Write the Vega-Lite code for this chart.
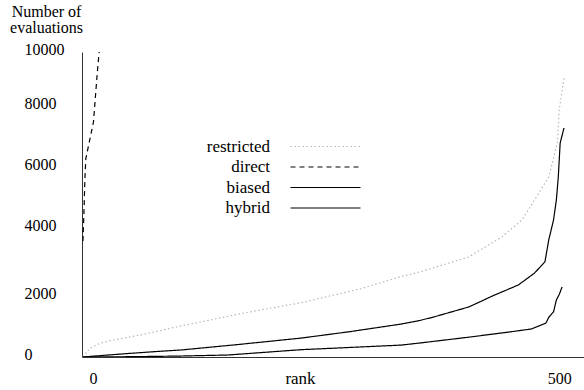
{
  "$schema": "https://vega.github.io/schema/vega-lite/v6.json",
  "width": 502,
  "height": 305,
  "autosize": "none",
  "padding": {"left": 82, "top": 52, "right": 0, "bottom": 33},
  "background": "white",
  "config": {"view": {"stroke": null}, "font": "Liberation Serif"},
  "data": {
    "values": [
      {"method": "restricted", "rank": 0, "evals": 0},
      {"method": "restricted", "rank": 4, "evals": 160},
      {"method": "restricted", "rank": 7, "evals": 280},
      {"method": "restricted", "rank": 18, "evals": 450},
      {"method": "restricted", "rank": 29, "evals": 540},
      {"method": "restricted", "rank": 60, "evals": 720},
      {"method": "restricted", "rank": 103, "evals": 1020},
      {"method": "restricted", "rank": 124, "evals": 1150},
      {"method": "restricted", "rank": 170, "evals": 1450},
      {"method": "restricted", "rank": 229, "evals": 1780},
      {"method": "restricted", "rank": 292, "evals": 2240},
      {"method": "restricted", "rank": 334, "evals": 2640},
      {"method": "restricted", "rank": 354, "evals": 2790},
      {"method": "restricted", "rank": 405, "evals": 3280},
      {"method": "restricted", "rank": 440, "evals": 3940},
      {"method": "restricted", "rank": 461, "evals": 4500},
      {"method": "restricted", "rank": 474, "evals": 5150},
      {"method": "restricted", "rank": 489, "evals": 5900},
      {"method": "restricted", "rank": 498, "evals": 7020},
      {"method": "restricted", "rank": 500, "evals": 8100},
      {"method": "restricted", "rank": 505, "evals": 9150},
      {"method": "direct", "rank": 0, "evals": 3800},
      {"method": "direct", "rank": 1, "evals": 4700},
      {"method": "direct", "rank": 2, "evals": 5800},
      {"method": "direct", "rank": 3, "evals": 6500},
      {"method": "direct", "rank": 7, "evals": 7100},
      {"method": "direct", "rank": 11, "evals": 7700},
      {"method": "direct", "rank": 13, "evals": 8500},
      {"method": "direct", "rank": 15, "evals": 9300},
      {"method": "direct", "rank": 17, "evals": 10000},
      {"method": "biased", "rank": 0, "evals": 0},
      {"method": "biased", "rank": 20, "evals": 50},
      {"method": "biased", "rank": 50, "evals": 120},
      {"method": "biased", "rank": 82, "evals": 190},
      {"method": "biased", "rank": 103, "evals": 230},
      {"method": "biased", "rank": 160, "evals": 400},
      {"method": "biased", "rank": 229, "evals": 620},
      {"method": "biased", "rank": 280, "evals": 830},
      {"method": "biased", "rank": 334, "evals": 1080},
      {"method": "biased", "rank": 354, "evals": 1200},
      {"method": "biased", "rank": 368, "evals": 1310},
      {"method": "biased", "rank": 405, "evals": 1640},
      {"method": "biased", "rank": 432, "evals": 2030},
      {"method": "biased", "rank": 457, "evals": 2360},
      {"method": "biased", "rank": 474, "evals": 2750},
      {"method": "biased", "rank": 485, "evals": 3120},
      {"method": "biased", "rank": 489, "evals": 3840},
      {"method": "biased", "rank": 494, "evals": 4490},
      {"method": "biased", "rank": 497, "evals": 5150},
      {"method": "biased", "rank": 499, "evals": 5900},
      {"method": "biased", "rank": 501, "evals": 7020},
      {"method": "biased", "rank": 505, "evals": 7510},
      {"method": "hybrid", "rank": 0, "evals": 0},
      {"method": "hybrid", "rank": 50, "evals": 10},
      {"method": "hybrid", "rank": 100, "evals": 30},
      {"method": "hybrid", "rank": 152, "evals": 65},
      {"method": "hybrid", "rank": 229, "evals": 240},
      {"method": "hybrid", "rank": 292, "evals": 330},
      {"method": "hybrid", "rank": 334, "evals": 390},
      {"method": "hybrid", "rank": 354, "evals": 460},
      {"method": "hybrid", "rank": 405, "evals": 650},
      {"method": "hybrid", "rank": 450, "evals": 830},
      {"method": "hybrid", "rank": 471, "evals": 920},
      {"method": "hybrid", "rank": 486, "evals": 1110},
      {"method": "hybrid", "rank": 489, "evals": 1300},
      {"method": "hybrid", "rank": 494, "evals": 1480},
      {"method": "hybrid", "rank": 497, "evals": 1870},
      {"method": "hybrid", "rank": 500, "evals": 2050},
      {"method": "hybrid", "rank": 503, "evals": 2300}
    ]
  },
  "mark": {"type": "line", "strokeWidth": 1.2, "clip": true},
  "encoding": {
    "x": {
      "field": "rank",
      "type": "quantitative",
      "scale": {"domain": [-1, 526], "nice": false, "zero": false},
      "axis": {
        "title": "rank",
        "titleX": 218,
        "titleY": 26,
        "titleBaseline": "alphabetic",
        "titleFont": "Liberation Serif",
        "titleFontSize": 17,
        "titleFontWeight": "normal",
        "titleColor": "black",
        "values": [0, 500],
        "ticks": false,
        "grid": false,
        "labelPadding": 13,
        "labelFont": "Liberation Serif",
        "labelFontSize": 16,
        "labelColor": "black",
        "labelFlush": false,
        "labelOffset": {"condition": {"test": "datum.value == 0", "value": 10}, "value": 0},
        "domainColor": "#333333"
      }
    },
    "y": {
      "field": "evals",
      "type": "quantitative",
      "scale": {"domain": [0, 10000], "nice": false},
      "axis": {
        "title": ["Number of", "evaluations"],
        "titleAngle": 0,
        "titleAlign": "center",
        "titleBaseline": "alphabetic",
        "titleX": -36,
        "titleY": -36,
        "titleFont": "Liberation Serif",
        "titleFontSize": 16,
        "titleFontWeight": "normal",
        "titleColor": "black",
        "titleLineHeight": 16,
        "values": [0, 2000, 4000, 6000, 8000, 10000],
        "format": "d",
        "ticks": false,
        "grid": false,
        "labelAlign": "left",
        "labelPadding": 58,
        "labelFont": "Liberation Serif",
        "labelFontSize": 16,
        "labelColor": "black",
        "labelFlush": false,
        "labelOffset": {"condition": {"test": "datum.value >= 4000 && datum.value <= 8000", "value": -10}, "value": -3},
        "domainColor": "#333333"
      }
    },
    "color": {
      "field": "method",
      "type": "nominal",
      "scale": {"domain": ["restricted", "direct", "biased", "hybrid"], "range": ["#b8b8b8", "#000000", "#000000", "#000000"]},
      "legend": {
        "title": null,
        "orient": "none",
        "legendX": 235,
        "legendY": 86,
        "padding": 0,
        "symbolType": "M-7,0H7",
        "symbolSize": 100,
        "symbolStrokeWidth": 1.2,
        "labelFont": "Liberation Serif",
        "labelFontSize": 17,
        "labelColor": "black",
        "labelAlign": "right",
        "labelOffset": -64,
        "rowPadding": 2.5
      }
    },
    "strokeDash": {
      "field": "method",
      "type": "nominal",
      "scale": {"domain": ["restricted", "direct", "biased", "hybrid"], "range": [[1.5, 2.5], [5, 4], [1, 0], [1, 0]]},
      "legend": {
        "title": null,
        "orient": "none",
        "legendX": 235,
        "legendY": 86,
        "padding": 0,
        "symbolType": "M-7,0H7",
        "symbolSize": 100,
        "symbolStrokeWidth": 1.2,
        "labelFont": "Liberation Serif",
        "labelFontSize": 17,
        "labelColor": "black",
        "labelAlign": "right",
        "labelOffset": -64,
        "rowPadding": 2.5
      }
    }
  }
}
